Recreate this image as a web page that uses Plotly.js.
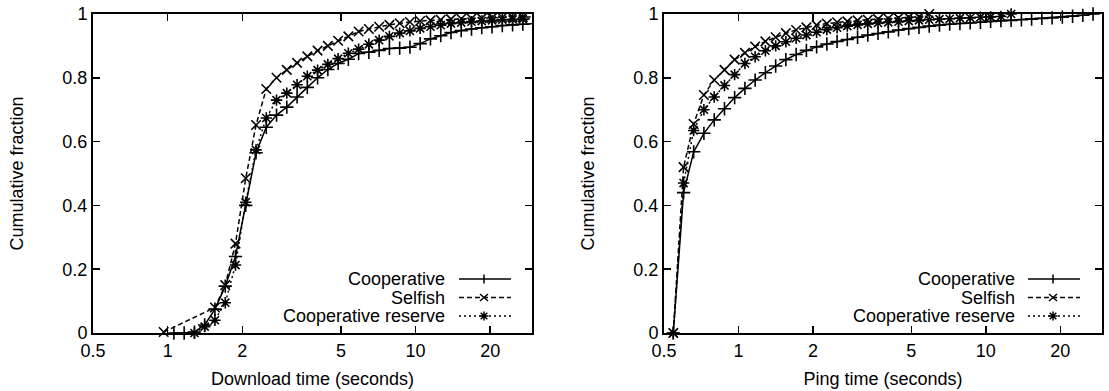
<!DOCTYPE html>
<html>
<head>
<meta charset="utf-8">
<script src="https://cdn.plot.ly/plotly-3.0.1.min.js"></script>
<style>
  html, body { margin: 0; padding: 0; background: #ffffff; }
  #chart { width: 1109px; height: 391px; }
</style>
</head>
<body>
<div id="chart"></div>
<script>
// ---------- data ----------
const seriesNames = ["Cooperative", "Selfish", "Cooperative reserve"];
const xTickVals = [0.5, 1, 2, 5, 10, 20];
const xTickText = ["0.5", "1", "2", "5", "10", "20"];
const yTickVals = [0, 0.2, 0.4, 0.6, 0.8, 1];
const yTickText = ["0", "0.2", "0.4", "0.6", "0.8", "1"];

// Download time (seconds)
const downloadX = [0.964, 1.060, 1.166, 1.283, 1.411, 1.552, 1.708, 1.878, 2.066, 2.273,
  2.500, 2.750, 3.025, 3.328, 3.660, 4.026, 4.429, 4.872, 5.359, 5.895,
  6.484, 7.133, 7.846, 8.631, 9.494, 10.44, 11.49, 12.64, 13.90, 15.29,
  16.82, 18.50, 20.35, 22.39, 24.63, 27.09, 29.80];
const downloadCooperative = [null, 0, 0, 0.003, 0.025, 0.075, 0.147, 0.24, 0.40, 0.565,
  0.645, 0.683, 0.708, 0.74, 0.77, 0.80, 0.826, 0.845, 0.858, 0.876,
  0.88, 0.886, 0.892, 0.893, 0.896, 0.907, 0.922, 0.932, 0.942, 0.948,
  0.953, 0.957, 0.96, 0.964, 0.966, 0.968, 0.97];
const downloadSelfish = [0.003, null, null, null, null, 0.08, 0.15, 0.28, 0.485, 0.652,
  0.765, 0.80, 0.825, 0.847, 0.867, 0.885, 0.90, 0.916, 0.93, 0.945,
  0.953, 0.96, 0.966, 0.971, 0.975, 0.978, 0.98, 0.982, 0.984, 0.985,
  0.986, 0.987, 0.988, 0.989, 0.99, 0.99, 0.991];
const downloadReserve = [null, null, null, 0, 0.02, 0.04, 0.095, 0.213, 0.41, 0.574,
  0.674, 0.73, 0.752, 0.778, 0.805, 0.824, 0.842, 0.86, 0.877, 0.89,
  0.905, 0.918, 0.93, 0.94, 0.947, 0.955, 0.96, 0.965, 0.97, 0.973,
  0.976, 0.978, 0.98, 0.982, 0.983, 0.984, 0.985];

// Ping time (seconds)
const pingX = [0.545, 0.600, 0.659, 0.725, 0.798, 0.878, 0.965, 1.062, 1.168, 1.285,
  1.414, 1.555, 1.711, 1.882, 2.070, 2.277, 2.505, 2.755, 3.031, 3.334,
  3.667, 4.034, 4.437, 4.881, 5.369, 5.906, 6.497, 7.147, 7.861, 8.647,
  9.512, 10.46, 11.51, 12.66, 13.93, 15.32, 16.85, 18.54, 20.39, 22.43,
  24.68, 27.14];
const pingCooperative = [0, 0.44, 0.568, 0.626, 0.668, 0.703, 0.738, 0.767, 0.793, 0.816,
  0.837, 0.857, 0.873, 0.886, 0.897, 0.906, 0.914, 0.92, 0.927, 0.934,
  0.939, 0.944, 0.95, 0.954, 0.958, 0.962, 0.965, 0.968, 0.97, 0.972,
  0.974, 0.977, 0.979, 0.98, 0.982, 0.984, 0.986, 0.988, 0.99, 0.993,
  0.996, 1.0];
const pingSelfish = [0, 0.52, 0.655, 0.746, 0.793, 0.825, 0.857, 0.878, 0.898, 0.914,
  0.927, 0.94, 0.95, 0.958, 0.965, 0.97, 0.974, 0.977, 0.98, 0.982,
  0.984, 0.986, 0.988, 0.99, 0.991, 1.0];
const pingReserve = [0, 0.47, 0.635, 0.70, 0.74, 0.776, 0.81, 0.845, 0.866, 0.885,
  0.9, 0.913, 0.924, 0.934, 0.943, 0.951, 0.957, 0.962, 0.966, 0.969,
  0.972, 0.974, 0.976, 0.978, 0.98, 0.982, 0.984, 0.985, 0.987, 0.988,
  0.99, 0.991, 0.992, 1.0];

// ---------- styling ----------
const W = 1109, H = 391;
const FONT = "'Liberation Sans', Arial, Helvetica, sans-serif";
const FS = 18;
const styles = [
  { dash: "solid", symbol: "cross-thin-open" },
  { dash: "5px,3px", symbol: "x-thin-open" },
  { dash: "2px,3px", symbol: "asterisk-open" }
];

function mkTrace(x, y, i, xa, ya) {
  return {
    x: x, y: y, type: "scatter", mode: "lines+markers",
    name: seriesNames[i], showlegend: false, connectgaps: true, cliponaxis: false,
    xaxis: xa, yaxis: ya,
    line: { color: "#000", width: 1.5, dash: styles[i].dash },
    marker: { symbol: styles[i].symbol, size: 9.5, color: "#000",
              line: { color: "#000", width: 1.6 } },
    hoverinfo: "skip"
  };
}

const traces = [
  mkTrace(downloadX, downloadCooperative, 0, "x", "y"),
  mkTrace(downloadX, downloadSelfish, 1, "x", "y"),
  mkTrace(downloadX, downloadReserve, 2, "x", "y"),
  mkTrace(pingX, pingCooperative, 0, "x2", "y2"),
  mkTrace(pingX, pingSelfish, 1, "x2", "y2"),
  mkTrace(pingX, pingReserve, 2, "x2", "y2")
];

const yDom = [(H - 333) / H, (H - 14) / H];
function xAxis(dom, title) {
  return {
    type: "log", domain: dom,
    range: [Math.log10(0.5), Math.log10(29.5)],
    tickmode: "array", tickvals: xTickVals, ticktext: xTickText,
    ticks: "inside", ticklen: 7, tickwidth: 1.5, tickcolor: "#000",
    showline: true, linecolor: "#000", linewidth: 2, mirror: "ticks",
    showgrid: false, zeroline: false, automargin: false,
    tickfont: { family: FONT, size: FS, color: "#000" },
    title: { text: title, font: { family: FONT, size: FS, color: "#000" }, standoff: 13 }
  };
}
function yAxis(anchor, title) {
  return {
    domain: yDom, anchor: anchor, range: [0, 1],
    tickmode: "array", tickvals: yTickVals, ticktext: yTickText,
    ticks: "inside", ticklen: 7, tickwidth: 1.5, tickcolor: "#000",
    showline: true, linecolor: "#000", linewidth: 2, mirror: "ticks",
    showgrid: false, zeroline: false, automargin: false,
    tickfont: { family: FONT, size: FS, color: "#000" },
    title: { text: title, font: { family: FONT, size: FS, color: "#000" }, standoff: 34 }
  };
}

// legend (text right-aligned, sample on the right, as in the original)
const legendRows = [279, 297.5, 316];
const legendSets = [
  { textRight: 447, lineL: 459, lineR: 511, mark: 484 },
  { textRight: 1017, lineL: 1028, lineR: 1080, mark: 1053 }
];
const markPaths = [
  "M0,-4.5 L0,4.5",
  "M-4,-3.5 L4,3.5 M-4,3.5 L4,-3.5",
  "M-4.5,0 L4.5,0 M0,-4.5 L0,4.5 M-3.3,-3.3 L3.3,3.3 M-3.3,3.3 L3.3,-3.3"
];
const annotations = [];
const shapes = [];
legendSets.forEach(set => {
  seriesNames.forEach((name, i) => {
    const yp = 1 - legendRows[i] / H;
    annotations.push({
      xref: "paper", yref: "paper", x: set.textRight / W, y: yp,
      xanchor: "right", yanchor: "middle", showarrow: false, text: name,
      font: { family: FONT, size: FS, color: "#000" }
    });
    shapes.push({
      type: "line", xref: "paper", yref: "paper",
      x0: set.lineL / W, x1: set.lineR / W, y0: yp, y1: yp,
      line: { color: "#000", width: 1.5, dash: styles[i].dash }
    });
    shapes.push({
      type: "path", xref: "paper", yref: "paper",
      xsizemode: "pixel", ysizemode: "pixel",
      xanchor: set.mark / W, yanchor: yp, path: markPaths[i],
      line: { color: "#000", width: 1.5 }
    });
  });
});

const layout = {
  width: W, height: H,
  margin: { l: 0, r: 0, t: 0, b: 0 },
  paper_bgcolor: "#fff", plot_bgcolor: "#fff",
  font: { family: FONT, size: FS, color: "#000" },
  showlegend: false,
  xaxis: xAxis([93 / W, 532 / W], "Download time (seconds)"),
  yaxis: yAxis("x", "Cumulative fraction"),
  xaxis2: Object.assign(xAxis([664 / W, 1102 / W], "Ping time (seconds)"), { anchor: "y2" }),
  yaxis2: yAxis("x2", "Cumulative fraction"),
  annotations: annotations,
  shapes: shapes
};
layout.xaxis.anchor = "y";

Plotly.newPlot("chart", traces, layout, { displayModeBar: false, staticPlot: true });
</script>
</body>
</html>
